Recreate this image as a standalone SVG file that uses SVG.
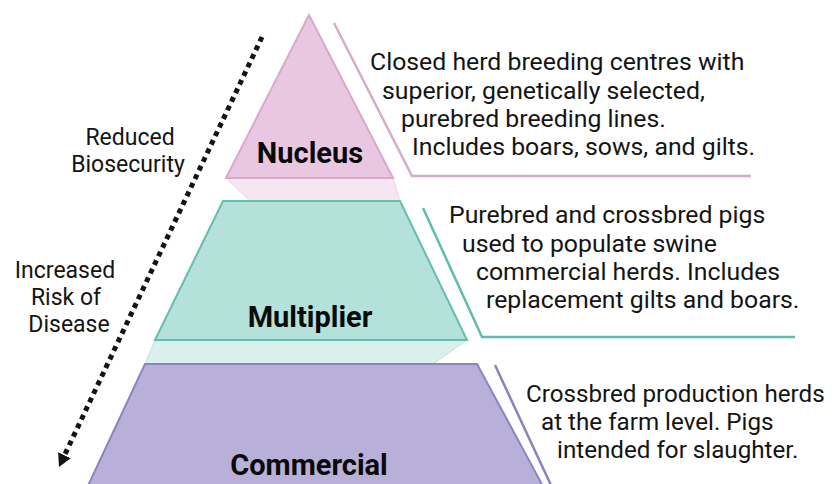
<svg xmlns="http://www.w3.org/2000/svg" width="834" height="484" viewBox="0 0 834 484">
<defs>
<style>
.lbl{font-family:Roboto,"Liberation Sans",Arial,sans-serif;font-size:23px;fill:#141414;text-anchor:middle}
.desc{font-family:Roboto,"Liberation Sans",Arial,sans-serif;font-size:24.8px;fill:#141414}
.desc2{font-family:Roboto,"Liberation Sans",Arial,sans-serif;font-size:24.2px;fill:#141414}
.title{font-family:Roboto,"Liberation Sans",Arial,sans-serif;font-size:29px;font-weight:bold;fill:#0a0a0a;text-anchor:middle}
.br{fill:none;stroke-width:2.5}
</style>
<marker id="ah" viewBox="0 0 13 14" refX="0" refY="7" markerWidth="13" markerHeight="14" markerUnits="userSpaceOnUse" orient="auto">
<path d="M0,0 L13,7 L0,14 z" fill="#141414"/>
</marker>
</defs>
<rect width="834" height="484" fill="#ffffff"/>

<g id="bands">
<polygon points="226,178 393,178 400,201 250,201" fill="#f6e6f1" stroke="#ecd3e5" stroke-width="1"/>
<polygon points="155,340 467,340 433,364 145,364" fill="#d9f0ec" stroke="#bfe5de" stroke-width="1"/>
</g>

<g id="nucleus">
<polygon points="309,15 393,178 226,178" fill="#e9c7e0" stroke="#d9a9cb" stroke-width="2"/>
<text class="title" x="310" y="163">Nucleus</text>
<polyline class="br" points="334,23 412,176 751,176" stroke="#d8abcb"/>
<text class="desc" x="370" y="70">Closed herd breeding centres with</text>
<text class="desc" x="382" y="99">superior, genetically selected,</text>
<text class="desc" x="401" y="127">purebred breeding lines.</text>
<text class="desc" x="412" y="155">Includes boars, sows, and gilts.</text>
</g>

<g id="multiplier">
<polygon points="223,201 400,201 467,340 155,340" fill="#b4e1da" stroke="#62bfb0" stroke-width="2"/>
<text class="title" x="310" y="327">Multiplier</text>
<polyline class="br" points="423,208 482,337 795,337" stroke="#5ebdad"/>
<text class="desc" x="449" y="223">Purebred and crossbred pigs</text>
<text class="desc" x="462" y="252">used to populate swine</text>
<text class="desc" x="476" y="280">commercial herds. Includes</text>
<text class="desc" x="486" y="308">replacement gilts and boars.</text>
</g>

<g id="commercial">
<polygon points="145,364 477,364 545,490 86,490" fill="#b8b0d9" stroke="#8c84c2" stroke-width="2"/>
<text class="title" x="309" y="475">Commercial</text>
<polyline class="br" points="495,365 556,496" stroke="#8a83c0"/>
<text class="desc2" x="526" y="402">Crossbred production herds</text>
<text class="desc2" x="541" y="430">at the farm level. Pigs</text>
<text class="desc2" x="557" y="458">intended for slaughter.</text>
</g>

<g id="side-labels">
<text class="lbl" x="130" y="145">Reduced</text>
<text class="lbl" x="128" y="172">Biosecurity</text>
<text class="lbl" x="65" y="278">Increased</text>
<text class="lbl" x="66" y="305">Risk of</text>
<text class="lbl" x="69" y="332">Disease</text>
</g>

<g id="connectors">
<line x1="262" y1="37" x2="64.5" y2="455.2" stroke="#141414" stroke-width="5" stroke-dasharray="5 4.5" marker-end="url(#ah)"/>
</g>
</svg>
